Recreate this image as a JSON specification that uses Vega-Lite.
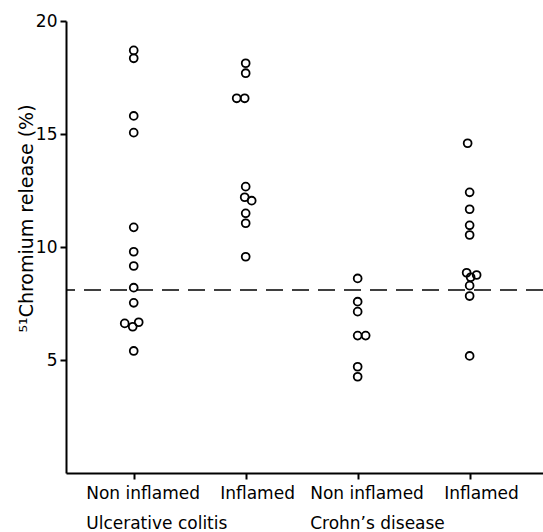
{
  "$schema": "https://vega.github.io/schema/vega-lite/v6.json",
  "autosize": "none",
  "width": 477,
  "height": 452,
  "padding": {"left": 66, "top": 21, "right": 0, "bottom": 59},
  "background": "white",
  "config": {
    "view": {"stroke": null},
    "font": "DejaVu Sans",
    "axis": {
      "domainColor": "black",
      "domainWidth": 2,
      "tickColor": "black",
      "tickWidth": 2,
      "labelColor": "black",
      "titleColor": "black",
      "grid": false,
      "labelFont": "DejaVu Sans",
      "titleFont": "DejaVu Sans"
    }
  },
  "layer": [
    {
      "data": {
        "values": [
          {"group": "UC-Non", "release": 18.7, "jitter": 0},
          {"group": "UC-Non", "release": 18.35, "jitter": 0},
          {"group": "UC-Non", "release": 15.8, "jitter": 0},
          {"group": "UC-Non", "release": 15.06, "jitter": 0},
          {"group": "UC-Non", "release": 10.87, "jitter": 0},
          {"group": "UC-Non", "release": 9.79, "jitter": 0},
          {"group": "UC-Non", "release": 9.16, "jitter": 0},
          {"group": "UC-Non", "release": 8.2, "jitter": 0},
          {"group": "UC-Non", "release": 7.53, "jitter": 0},
          {"group": "UC-Non", "release": 6.62, "jitter": -9},
          {"group": "UC-Non", "release": 6.47, "jitter": -1},
          {"group": "UC-Non", "release": 6.67, "jitter": 5},
          {"group": "UC-Non", "release": 5.4, "jitter": 0},
          {"group": "UC-Inf", "release": 18.13, "jitter": 0},
          {"group": "UC-Inf", "release": 17.69, "jitter": 0},
          {"group": "UC-Inf", "release": 16.58, "jitter": -9},
          {"group": "UC-Inf", "release": 16.58, "jitter": -1},
          {"group": "UC-Inf", "release": 12.67, "jitter": 0},
          {"group": "UC-Inf", "release": 12.2, "jitter": -1},
          {"group": "UC-Inf", "release": 12.05, "jitter": 6},
          {"group": "UC-Inf", "release": 11.49, "jitter": 0},
          {"group": "UC-Inf", "release": 11.05, "jitter": 0},
          {"group": "UC-Inf", "release": 9.57, "jitter": 0},
          {"group": "CD-Non", "release": 8.61, "jitter": 0},
          {"group": "CD-Non", "release": 7.58, "jitter": 0},
          {"group": "CD-Non", "release": 7.14, "jitter": 0},
          {"group": "CD-Non", "release": 6.08, "jitter": 0},
          {"group": "CD-Non", "release": 6.08, "jitter": 8},
          {"group": "CD-Non", "release": 4.7, "jitter": 0},
          {"group": "CD-Non", "release": 4.26, "jitter": 0},
          {"group": "CD-Inf", "release": 14.59, "jitter": -2},
          {"group": "CD-Inf", "release": 12.42, "jitter": 0},
          {"group": "CD-Inf", "release": 11.67, "jitter": 0},
          {"group": "CD-Inf", "release": 10.96, "jitter": 0},
          {"group": "CD-Inf", "release": 10.53, "jitter": 0},
          {"group": "CD-Inf", "release": 8.86, "jitter": -3},
          {"group": "CD-Inf", "release": 8.76, "jitter": 7},
          {"group": "CD-Inf", "release": 8.66, "jitter": 1},
          {"group": "CD-Inf", "release": 8.29, "jitter": 0},
          {"group": "CD-Inf", "release": 7.83, "jitter": 0},
          {"group": "CD-Inf", "release": 5.18, "jitter": 0}
        ]
      },
      "mark": {"type": "point", "shape": "circle", "filled": false, "color": "black", "size": 62, "strokeWidth": 1.8, "opacity": 1},
      "encoding": {
        "x": {
          "field": "group",
          "type": "nominal",
          "sort": ["UC-Non", "UC-Inf", "CD-Non", "CD-Inf"],
          "scale": {"type": "point", "padding": 0.63, "align": 0.48},
          "axis": {
            "title": null,
            "tickSize": 6,
            "labelFontSize": 17,
            "labelPadding": 6,
            "labelAngle": 0,
            "labelAlign": "left",
            "labelBaseline": "top",
            "labelLineHeight": 30,
            "labelOffset": {"condition": {"test": "datum.value === 'UC-Non' || datum.value === 'CD-Non'", "value": -48}, "value": -26},
            "labelExpr": "datum.value === 'UC-Non' ? ['Non inflamed', 'Ulcerative colitis'] : datum.value === 'CD-Non' ? ['Non inflamed', 'Crohn\u2019s disease'] : 'Inflamed'"
          }
        },
        "xOffset": {"field": "jitter", "type": "quantitative", "scale": {"domain": [-10, 10], "range": [-10, 10]}},
        "y": {
          "field": "release",
          "type": "quantitative",
          "scale": {"domain": [0, 20], "nice": false, "zero": true},
          "axis": {
            "title": "\u2075\u00b9Chromium release (%)",
            "values": [5, 10, 15, 20],
            "tickSize": 6,
            "labelFontSize": 17,
            "labelPadding": 3,
            "titleFontSize": 19,
            "titleFontWeight": "normal",
            "titleAngle": 270,
            "titleAlign": "center",
            "titleBaseline": "middle",
            "titleX": -40,
            "titleY": 197
          }
        }
      }
    },
    {
      "data": {"values": [{"cutoff": 8.1}]},
      "mark": {"type": "rule", "color": "black", "strokeWidth": 1.5, "strokeDash": [17, 9]},
      "encoding": {
        "y": {"field": "cutoff", "type": "quantitative"}
      }
    }
  ]
}
